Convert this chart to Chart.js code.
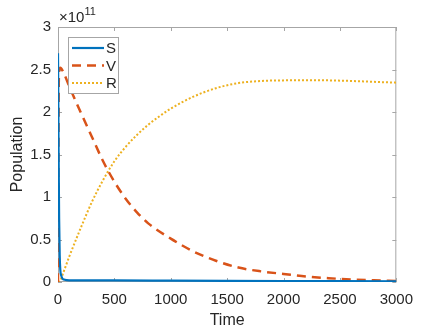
<!DOCTYPE html>
<html>
<head>
<meta charset="utf-8">
<script src="https://cdn.jsdelivr.net/npm/chart.js@4"></script>
<style>
  html, body { margin: 0; padding: 0; background: #fff; }
  #wrap { width: 422px; height: 334px; }
</style>
</head>
<body>
<div id="wrap"><canvas id="myChart" width="422" height="334"></canvas></div>
<script>
// values are in units of 10^11
const timeS = [0, 2, 5, 10, 15, 20, 30, 40, 60, 100, 500, 1000, 1500, 2000, 2500, 3000];
const sVals = [2.69, 2.35, 1.6, 0.75, 0.32, 0.15, 0.07, 0.04, 0.026, 0.02, 0.018, 0.016, 0.014, 0.012, 0.01, 0.009];

const timeV = [0, 3, 6, 10, 20, 50, 100, 200, 300, 400, 500, 600, 700, 800, 1000, 1200, 1400, 1600, 1800, 2000, 2200, 2400, 2600, 2800, 3000];
const vVals = [0, 1.2, 2.2, 2.48, 2.52, 2.46, 2.3, 2.0, 1.71, 1.42, 1.18, 0.98, 0.82, 0.69, 0.51, 0.36, 0.25, 0.17, 0.125, 0.095, 0.065, 0.045, 0.03, 0.02, 0.012];

const timeR = [0, 20, 50, 100, 200, 300, 400, 500, 600, 700, 800, 900, 1000, 1200, 1400, 1600, 1800, 2000, 2200, 2400, 2600, 2800, 3000];
const rVals = [0, 0.02, 0.12, 0.30, 0.63, 0.94, 1.20, 1.42, 1.59, 1.73, 1.85, 1.95, 2.04, 2.18, 2.28, 2.34, 2.365, 2.372, 2.375, 2.372, 2.365, 2.355, 2.345];

const seriesNames = ['S', 'V', 'R'];
const xTicks = [0, 500, 1000, 1500, 2000, 2500, 3000];
const yTicks = [0, 0.5, 1, 1.5, 2, 2.5, 3];
const yExponent = '11';

function pts(ts, vs) {
    return ts.map((t, i) => ({ x: t, y: vs[i] }));
}

const font = 'Liberation Sans, Arial, Helvetica, sans-serif';
const txtColor = '#262626';
const boxColor = '#a6a6a6';

const matlabFrame = {
    id: 'matlabFrame',
    beforeDatasetsDraw(chart) {
        const { ctx, chartArea: a, scales } = chart;
        ctx.save();
        ctx.strokeStyle = boxColor;
        ctx.lineWidth = 1;
        ctx.strokeRect(a.left + 0.5, a.top + 0.5, a.right - a.left - 1, a.bottom - a.top - 1);
        ctx.beginPath();
        xTicks.forEach(v => {
            const x = Math.round(scales.x.getPixelForValue(v)) + 0.5;
            ctx.moveTo(x, a.bottom); ctx.lineTo(x, a.bottom - 4);
            ctx.moveTo(x, a.top); ctx.lineTo(x, a.top + 4);
        });
        yTicks.forEach(v => {
            const y = Math.round(scales.y.getPixelForValue(v)) + 0.5;
            ctx.moveTo(a.left, y); ctx.lineTo(a.left + 4, y);
            ctx.moveTo(a.right, y); ctx.lineTo(a.right - 4, y);
        });
        ctx.stroke();
        ctx.restore();
    },
    afterDraw(chart) {
        const { ctx, chartArea: a } = chart;
        ctx.save();
        // exponent label
        ctx.fillStyle = txtColor;
        ctx.textBaseline = 'alphabetic';
        ctx.textAlign = 'left';
        ctx.font = '15px ' + font;
        ctx.fillText('\u00d710', a.left + 1, a.top - 5);
        const w = ctx.measureText('\u00d710').width;
        ctx.font = '11px ' + font;
        ctx.fillText(yExponent, a.left + 1 + w, a.top - 12);

        // legend
        const lx = 68, ly = 37, lw = 50, lh = 56;
        ctx.fillStyle = '#fff';
        ctx.fillRect(lx, ly, lw, lh);
        ctx.strokeStyle = boxColor;
        ctx.lineWidth = 1;
        ctx.strokeRect(lx + 0.5, ly + 0.5, lw, lh);
        chart.data.datasets.forEach((ds, i) => {
            const y = ly + 11 + i * 17.5;
            ctx.strokeStyle = ds.borderColor;
            ctx.lineWidth = ds.borderWidth;
            ctx.setLineDash(ds.borderDash || []);
            ctx.beginPath();
            ctx.moveTo(lx + 4, y);
            ctx.lineTo(lx + 36, y);
            ctx.stroke();
            ctx.setLineDash([]);
            ctx.fillStyle = txtColor;
            ctx.font = '15px ' + font;
            ctx.textBaseline = 'middle';
            ctx.fillText(ds.label, lx + 38, y + 1);
        });
        ctx.restore();
    }
};

const ctx = document.getElementById('myChart').getContext('2d');
const myChart = new Chart(ctx, {
    type: 'line',
    data: {
        datasets: [{
            label: seriesNames[0],
            data: pts(timeS, sVals),
            borderColor: '#0072BD',
            borderWidth: 2.2,
            pointRadius: 0,
            cubicInterpolationMode: 'monotone'
        }, {
            label: seriesNames[1],
            data: pts(timeV, vVals),
            borderColor: '#D95319',
            borderWidth: 2.5,
            borderDash: [9, 6],
            pointRadius: 0,
            cubicInterpolationMode: 'monotone'
        }, {
            label: seriesNames[2],
            data: pts(timeR, rVals),
            borderColor: '#EDB120',
            borderWidth: 2,
            borderDash: [2, 2],
            pointRadius: 0,
            cubicInterpolationMode: 'monotone'
        }]
    },
    options: {
        responsive: false,
        animation: false,
        layout: { padding: { left: 0, right: 24, top: 27, bottom: 0 } },
        plugins: { legend: { display: false }, tooltip: { enabled: false } },
        scales: {
            x: {
                type: 'linear',
                min: 0, max: 3000,
                afterBuildTicks: s => { s.ticks = xTicks.map(v => ({ value: v })); },
                afterFit: s => { s.height = 52; },
                grid: { display: false, drawTicks: false },
                border: { display: false },
                ticks: {
                    padding: 9,
                    color: txtColor,
                    font: { family: font, size: 15 },
                    maxRotation: 0,
                    autoSkip: false,
                    callback: v => String(v)
                },
                title: {
                    display: true, text: 'Time', color: txtColor,
                    font: { family: font, size: 16 },
                    padding: { top: 0, bottom: 4 }
                }
            },
            y: {
                min: 0, max: 3,
                afterBuildTicks: s => { s.ticks = yTicks.map(v => ({ value: v })); },
                afterFit: s => { s.width = 58; },
                grid: { display: false, drawTicks: false },
                border: { display: false },
                ticks: {
                    padding: 7,
                    color: txtColor,
                    font: { family: font, size: 15 },
                    autoSkip: false,
                    callback: v => String(v)
                },
                title: {
                    display: true, text: 'Population', color: txtColor,
                    font: { family: font, size: 16 },
                    padding: { top: 8, bottom: 0 }
                }
            }
        }
    },
    plugins: [matlabFrame]
});
</script>
</body>
</html>
